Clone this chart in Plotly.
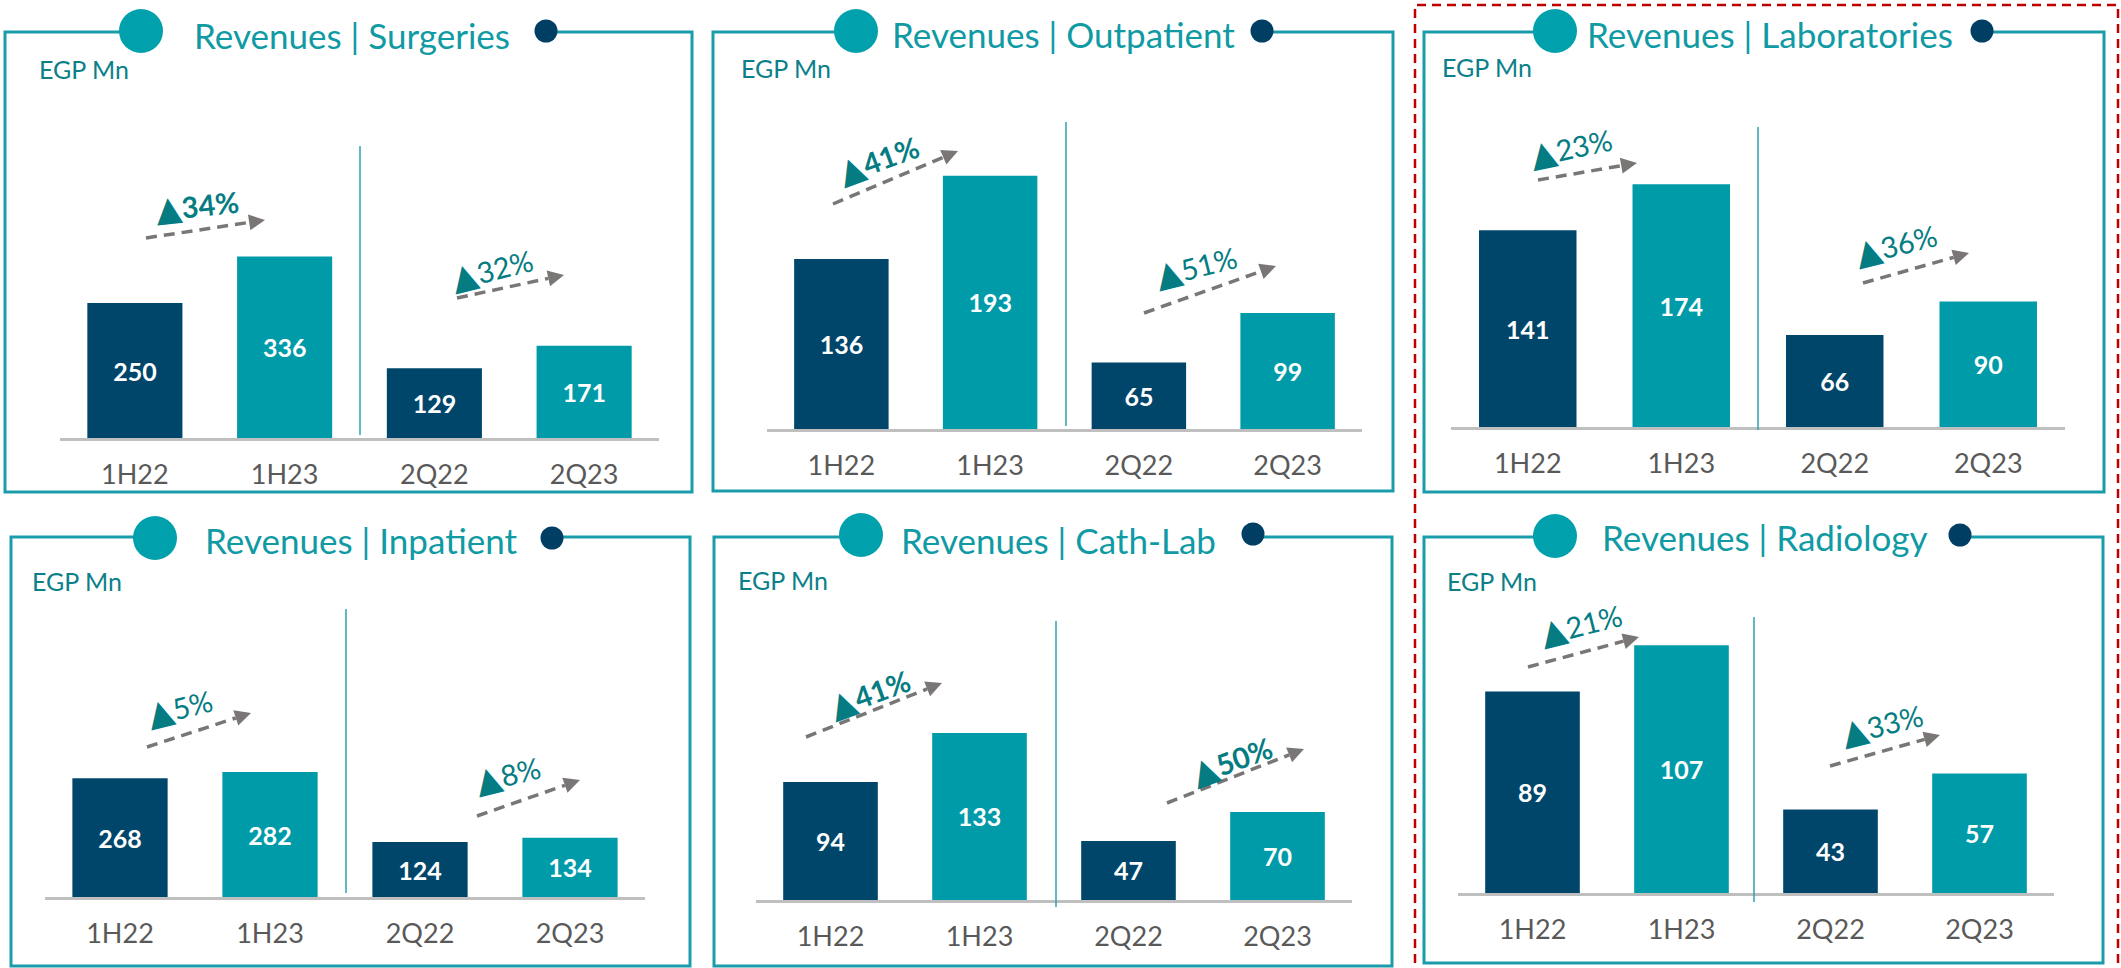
import numpy as np
import plotly.graph_objects as go

W, H = 2121, 968

# ---- data -----------------------------------------------------------
categories = ["1H22", "1H23", "2Q22", "2Q23"]

surgeries = [250, 336, 129, 171]
outpatient = [136, 193, 65, 99]
laboratories = [141, 174, 66, 90]
inpatient = [268, 282, 124, 134]
cath_lab = [94, 133, 47, 70]
radiology = [89, 107, 43, 57]

titles = ["Revenues | Surgeries", "Revenues | Outpatient", "Revenues | Laboratories",
          "Revenues | Inpatient", "Revenues | Cath-Lab", "Revenues | Radiology"]
growth = [["34%", "32%"], ["41%", "51%"], ["23%", "36%"],
          ["5%", "8%"], ["41%", "50%"], ["21%", "33%"]]
unit_label = "EGP Mn"

series = [surgeries, outpatient, laboratories, inpatient, cath_lab, radiology]

# ---- colours / fonts ------------------------------------------------
NAVY = "#00466B"
TEAL = "#009BA8"
BOX = "#1A9DAA"
TITLE_C = "#0F9AA4"
PCT_C = "#047C82"
UNIT_C = "#0B8089"
GREY_TXT = "#595959"
ARROW_C = "#7A7676"
FONT = "Lato, DejaVu Sans"

# ---- layout of each panel, in pixels of the 2121x968 page -----------
# box, axis baseline, axis x-span, px per unit, axis start, divider, circles, title centre
panel_px = [
    dict(box=(5, 692, 32, 492), base=438, ax=(60, 659), k=0.54, v0=0,
         div=(360, 146, 435), big=(141, 31), small=(546, 31), title=(352, 35), unit=(37, 69)),
    dict(box=(713, 1393, 32, 491), base=429, ax=(767, 1362), k=1.46, v0=19.5,
         div=(1066, 122, 426), big=(856, 31), small=(1262, 31), title=(1063, 34), unit=(739, 68)),
    dict(box=(1424, 2104, 32, 492), base=427, ax=(1451, 2065), k=1.395, v0=0,
         div=(1758, 127, 430), big=(1555, 31), small=(1982, 31), title=(1770, 34), unit=(1440, 67)),
    dict(box=(11, 690, 537, 966), base=897, ax=(45, 645), k=0.443, v0=0,
         div=(346, 609, 893), big=(155, 538), small=(552, 538), title=(361, 540), unit=(30, 581)),
    dict(box=(714, 1392, 537, 966), base=900, ax=(756, 1352), k=1.256, v0=0,
         div=(1056, 621, 907), big=(861, 535), small=(1253, 534), title=(1058, 540), unit=(736, 580)),
    dict(box=(1424, 2103, 537, 963), base=893, ax=(1458, 2054), k=2.565, v0=10.4,
         div=(1754, 617, 902), big=(1555, 536), small=(1960, 535), title=(1764, 537), unit=(1445, 581)),
]

# growth label centre, angle, bold flag, arrow start -> tip (pixels)
growth_px = [
    [dict(c=(197, 203), a=-6, b=True, s=(146, 238), t=(265, 220)),
     dict(c=(491, 267), a=-14, b=False, s=(457, 298), t=(564, 275))],
    [dict(c=(878, 158), a=-20, b=True, s=(833, 204), t=(958, 151)),
     dict(c=(1195, 264), a=-14, b=False, s=(1144, 313), t=(1276, 266))],
    [dict(c=(1570, 145), a=-12, b=False, s=(1538, 180), t=(1637, 163)),
     dict(c=(1895, 243), a=-14, b=False, s=(1863, 283), t=(1969, 253))],
    [dict(c=(179, 705), a=-14, b=False, s=(147, 747), t=(251, 713)),
     dict(c=(507, 772), a=-14, b=False, s=(477, 816), t=(580, 780))],
    [dict(c=(869, 691), a=-20, b=True, s=(806, 737), t=(942, 683)),
     dict(c=(1231, 758), a=-20, b=True, s=(1167, 803), t=(1304, 749))],
    [dict(c=(1580, 622), a=-14, b=False, s=(1528, 667), t=(1639, 637)),
     dict(c=(1881, 722), a=-14, b=False, s=(1830, 766), t=(1940, 735))],
]


def X(x):
    return x / W


def Y(y):
    return 1 - y / H


fig = go.Figure()
shapes = []
annotations = []
axes = {}

bar_colors = [NAVY, TEAL, NAVY, TEAL]

for i, (vals, p) in enumerate(zip(series, panel_px)):
    n = "" if i == 0 else str(i + 1)
    top_px = p["base"] - 330
    y_top = p["v0"] + (p["base"] - top_px) / p["k"]

    fig.add_trace(go.Bar(
        x=categories,
        y=[v - p["v0"] for v in vals],
        base=p["v0"],
        text=vals,
        texttemplate="%{text}",
        textposition="inside",
        insidetextanchor="middle",
        textangle=0,
        constraintext="none",
        textfont=dict(family=FONT, size=25, color="white", weight="bold"),
        marker=dict(color=bar_colors, line=dict(width=0)),
        xaxis="x" + n, yaxis="y" + n,
        showlegend=False,
        hoverinfo="skip",
    ))

    axes["xaxis" + n] = dict(
        domain=[X(p["ax"][0]), X(p["ax"][1])], anchor="y" + n,
        showline=True, linecolor="#BFBFBF", linewidth=2.5,
        showgrid=False, zeroline=False, ticks="",
        tickfont=dict(family=FONT, size=27, color=GREY_TXT),
        ticklabelstandoff=11, fixedrange=True,
    )
    axes["yaxis" + n] = dict(
        domain=[Y(p["base"]), Y(top_px)], anchor="x" + n,
        range=[p["v0"], y_top], visible=False, fixedrange=True,
    )

    # panel frame, opened between the two title circles
    x0, x1, y0, y1 = p["box"]
    bx, sx = p["big"][0], p["small"][0]
    path = (f"M {X(bx)},{Y(y0)} L {X(x0)},{Y(y0)} L {X(x0)},{Y(y1)} "
            f"L {X(x1)},{Y(y1)} L {X(x1)},{Y(y0)} L {X(sx)},{Y(y0)}")
    shapes.append(dict(type="path", path=path, xref="paper", yref="paper",
                       line=dict(color=BOX, width=3), layer="above"))

    # title circles
    for (cx, cy), r, col in [(p["big"], 22, "#00A0AC"), (p["small"], 11.5, "#003F63")]:
        shapes.append(dict(type="circle", xref="paper", yref="paper",
                           x0=X(cx - r), x1=X(cx + r), y0=Y(cy + r), y1=Y(cy - r),
                           fillcolor=col, line=dict(width=0), layer="above"))

    # divider between half-year and quarter
    dx, dy0, dy1 = p["div"]
    shapes.append(dict(type="line", xref="paper", yref="paper",
                       x0=X(dx), x1=X(dx), y0=Y(dy0), y1=Y(dy1),
                       line=dict(color="#2AA3B2", width=1.5), layer="above"))

    annotations.append(dict(text=titles[i], x=X(p["title"][0]), y=Y(p["title"][1]),
                            xref="paper", yref="paper", showarrow=False,
                            xanchor="center", yanchor="middle",
                            font=dict(family=FONT, size=35, color=TITLE_C)))
    annotations.append(dict(text=unit_label, x=X(p["unit"][0]), y=Y(p["unit"][1]),
                            xref="paper", yref="paper", showarrow=False,
                            xanchor="left", yanchor="middle",
                            font=dict(family=FONT, size=25, color=UNIT_C)))

    # growth labels and dashed arrows
    for g, gp in zip(growth[i], growth_px[i]):
        tri = "<span style='font-size:34px'>▲</span>"
        label = f"{tri}<b>{g}</b>" if gp["b"] else f"{tri}{g}"
        annotations.append(dict(text=label, x=X(gp["c"][0]), y=Y(gp["c"][1]),
                                xref="paper", yref="paper", showarrow=False,
                                xanchor="center", yanchor="middle", textangle=gp["a"],
                                font=dict(family=FONT, size=29, color=PCT_C)))
        s = np.array(gp["s"], float)
        t = np.array(gp["t"], float)
        d = (t - s) / np.linalg.norm(t - s)
        nrm = np.array([-d[1], d[0]])
        hb = t - d * 16
        shapes.append(dict(type="line", xref="paper", yref="paper",
                           x0=X(s[0]), y0=Y(s[1]), x1=X(hb[0]), y1=Y(hb[1]),
                           line=dict(color=ARROW_C, width=3.5, dash="11px,7px"),
                           layer="above"))
        p1, p2 = hb + nrm * 8, hb - nrm * 8
        shapes.append(dict(type="path", xref="paper", yref="paper",
                           path=f"M {X(t[0])},{Y(t[1])} L {X(p1[0])},{Y(p1[1])} "
                                f"L {X(p2[0])},{Y(p2[1])} Z",
                           fillcolor=ARROW_C, line=dict(width=0), layer="above"))

# red dashed highlight around the right-hand column (runs off the bottom)
shapes.append(dict(type="rect", xref="paper", yref="paper",
                   x0=X(1415), x1=X(2118), y0=Y(980), y1=Y(5),
                   line=dict(color="#C00000", width=2.5, dash="9px,6px"), layer="above"))

fig.update_layout(
    width=W, height=H,
    margin=dict(l=0, r=0, t=0, b=0),
    paper_bgcolor="white", plot_bgcolor="rgba(0,0,0,0)",
    bargap=0.365,
    shapes=shapes,
    annotations=annotations,
    **axes,
)

# page body margin would push the figure 8px off the window origin
fig.write_html("out.html", config={"displayModeBar": False},
               post_script="document.body.style.margin = '0';")
